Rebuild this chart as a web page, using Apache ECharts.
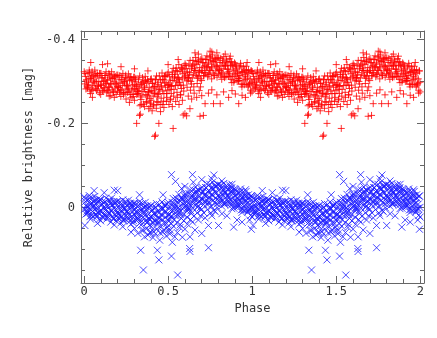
<!DOCTYPE html>
<html><head><meta charset="utf-8">
<script src="https://cdn.jsdelivr.net/npm/echarts@6/dist/echarts.min.js"></script>
<style>html,body{margin:0;padding:0;background:#fff}#c{width:437px;height:338px}</style>
</head><body><div id="c"></div>
<script>
// Phases of the observations (one cycle; the plot shows the cycle twice)
const bandPhase = [
0.001,0.004,0.008,0.011,0.015,0.018, 0.021,0.024,0.028,0.031,0.035,0.038, 0.041,0.044,0.048,0.051,0.055,0.058, 0.061,0.064,0.068,0.071,0.075,0.078, 0.081,0.084,0.088,0.091,0.095,0.098,
0.101,0.104,0.108,0.111,0.115,0.118, 0.121,0.124,0.128,0.131,0.135,0.138, 0.141,0.144,0.148,0.151,0.155,0.158, 0.161,0.164,0.168,0.171,0.175,0.178, 0.181,0.184,0.188,0.191,0.195,0.198,
0.201,0.204,0.208,0.211,0.215,0.218, 0.221,0.224,0.228,0.231,0.235,0.238, 0.241,0.244,0.248,0.251,0.255,0.258, 0.261,0.264,0.268,0.271,0.275,0.278, 0.281,0.284,0.288,0.291,0.295,0.298,
0.301,0.304,0.308,0.311,0.315,0.318, 0.321,0.324,0.328,0.331,0.335,0.338, 0.341,0.344,0.348,0.351,0.355,0.358, 0.361,0.364,0.368,0.371,0.375,0.378, 0.381,0.384,0.388,0.391,0.395,0.398,
0.401,0.404,0.408,0.411,0.415,0.418, 0.421,0.424,0.428,0.431,0.435,0.438, 0.441,0.444,0.448,0.451,0.455,0.458, 0.461,0.464,0.468,0.471,0.475,0.478, 0.481,0.484,0.488,0.491,0.495,0.498,
0.501,0.504,0.508,0.511,0.515,0.518, 0.521,0.524,0.528,0.531,0.535,0.538, 0.541,0.544,0.548,0.551,0.555,0.558, 0.561,0.564,0.568,0.571,0.575,0.578, 0.581,0.584,0.588,0.591,0.595,0.598,
0.601,0.604,0.608,0.611,0.615,0.618, 0.621,0.624,0.628,0.631,0.635,0.638, 0.641,0.644,0.648,0.651,0.655,0.658, 0.661,0.664,0.668,0.671,0.675,0.678, 0.681,0.684,0.688,0.691,0.695,0.698,
0.701,0.704,0.708,0.711,0.715,0.718, 0.721,0.724,0.728,0.731,0.735,0.738, 0.741,0.744,0.748,0.751,0.755,0.758, 0.761,0.764,0.768,0.771,0.775,0.778, 0.781,0.784,0.788,0.791,0.795,0.798,
0.801,0.804,0.808,0.811,0.815,0.818, 0.821,0.824,0.828,0.831,0.835,0.838, 0.841,0.844,0.848,0.851,0.855,0.858, 0.861,0.864,0.868,0.871,0.875,0.878, 0.881,0.884,0.888,0.891,0.895,0.898,
0.901,0.904,0.908,0.911,0.915,0.918, 0.921,0.924,0.928,0.931,0.935,0.938, 0.941,0.944,0.948,0.951,0.955,0.958, 0.961,0.964,0.968,0.971,0.975,0.978, 0.981,0.984,0.988,0.991,0.995,0.998
];
// Star 1 (red +) relative magnitudes at those phases
const redBandMag = [
-0.323,-0.294,-0.312,-0.282,-0.304,-0.289, -0.286,-0.318,-0.298,-0.327,-0.277,-0.307, -0.308,-0.281,-0.323,-0.290,-0.314,-0.299, -0.296,-0.327,-0.284,-0.311,-0.278,-0.319, -0.314,-0.288,-0.300,-0.273,-0.319,-0.292,
-0.319,-0.290,-0.308,-0.278,-0.300,-0.285, -0.282,-0.314,-0.294,-0.323,-0.273,-0.303, -0.304,-0.277,-0.319,-0.286,-0.310,-0.295, -0.292,-0.323,-0.280,-0.307,-0.274,-0.315, -0.310,-0.284,-0.296,-0.269,-0.315,-0.288,
-0.315,-0.286,-0.304,-0.274,-0.296,-0.281, -0.278,-0.310,-0.290,-0.319,-0.269,-0.299, -0.300,-0.273,-0.315,-0.282,-0.306,-0.291, -0.287,-0.318,-0.275,-0.302,-0.269,-0.310, -0.305,-0.279,-0.291,-0.264,-0.310,-0.283,
-0.310,-0.281,-0.299,-0.269,-0.291,-0.276, -0.272,-0.304,-0.284,-0.313,-0.263,-0.293, -0.294,-0.267,-0.309,-0.276,-0.300,-0.285, -0.281,-0.312,-0.269,-0.296,-0.263,-0.304, -0.300,-0.274,-0.286,-0.259,-0.305,-0.278,
-0.306,-0.277,-0.295,-0.265,-0.287,-0.272, -0.272,-0.304,-0.284,-0.313,-0.263,-0.293, -0.298,-0.271,-0.313,-0.280,-0.304,-0.289, -0.289,-0.320,-0.277,-0.304,-0.271,-0.312, -0.312,-0.286,-0.298,-0.271,-0.317,-0.290,
-0.322,-0.293,-0.311,-0.281,-0.303,-0.288, -0.290,-0.322,-0.302,-0.331,-0.281,-0.311, -0.317,-0.290,-0.332,-0.299,-0.323,-0.308, -0.309,-0.340,-0.297,-0.324,-0.291,-0.332, -0.332,-0.306,-0.318,-0.291,-0.337,-0.310,
-0.342,-0.313,-0.331,-0.301,-0.323,-0.308, -0.309,-0.341,-0.321,-0.350,-0.300,-0.330, -0.335,-0.308,-0.350,-0.317,-0.341,-0.326, -0.326,-0.357,-0.314,-0.341,-0.308,-0.349, -0.347,-0.321,-0.333,-0.306,-0.352,-0.325,
-0.355,-0.326,-0.344,-0.314,-0.336,-0.321, -0.320,-0.352,-0.332,-0.361,-0.311,-0.341, -0.344,-0.317,-0.359,-0.326,-0.350,-0.335, -0.332,-0.363,-0.320,-0.347,-0.314,-0.355, -0.351,-0.325,-0.337,-0.310,-0.356,-0.329,
-0.356,-0.327,-0.345,-0.315,-0.337,-0.322, -0.318,-0.350,-0.330,-0.359,-0.309,-0.339, -0.338,-0.311,-0.353,-0.320,-0.344,-0.329, -0.323,-0.354,-0.311,-0.338,-0.305,-0.346, -0.339,-0.313,-0.325,-0.298,-0.344,-0.317,
-0.341,-0.312,-0.330,-0.300,-0.322,-0.307, -0.302,-0.334,-0.314,-0.343,-0.293,-0.323, -0.321,-0.294,-0.336,-0.303,-0.327,-0.312, -0.305,-0.336,-0.293,-0.320,-0.287,-0.328, -0.320,-0.294,-0.306,-0.279,-0.325,-0.298
];
// Star 2 (blue x) relative magnitudes at those phases
const blueBandMag = [
-0.025,0.004,-0.014,0.016,-0.006,0.009, 0.013,-0.019,0.001,-0.028,0.022,-0.008, -0.008,0.019,-0.023,0.010,-0.014,0.001, 0.005,-0.026,0.017,-0.010,0.023,-0.018, -0.013,0.013,0.001,0.028,-0.018,0.009,
-0.018,0.011,-0.007,0.023,0.001,0.016, 0.019,-0.013,0.007,-0.022,0.028,-0.002, -0.003,0.024,-0.018,0.015,-0.009,0.006, 0.009,-0.022,0.021,-0.006,0.027,-0.014, -0.009,0.017,0.005,0.032,-0.014,0.013,
-0.014,0.015,-0.003,0.027,0.005,0.020, 0.023,-0.009,0.011,-0.018,0.032,0.002, 0.001,0.028,-0.014,0.019,-0.005,0.010, 0.014,-0.017,0.026,-0.001,0.032,-0.009, -0.005,0.021,0.009,0.036,-0.010,0.017,
-0.010,0.019,0.001,0.031,0.009,0.024, 0.027,-0.005,0.015,-0.014,0.036,0.006, 0.006,0.033,-0.009,0.024,0.000,0.015, 0.019,-0.012,0.031,0.004,0.037,-0.004, 0.001,0.027,0.015,0.042,-0.004,0.023,
-0.004,0.025,0.007,0.037,0.015,0.030, 0.032,0.000,0.020,-0.009,0.041,0.011, 0.008,0.035,-0.007,0.026,0.002,0.017, 0.018,-0.013,0.030,0.003,0.036,-0.005, -0.003,0.023,0.011,0.038,-0.008,0.019,
-0.012,0.017,-0.001,0.029,0.007,0.022, 0.020,-0.012,0.008,-0.021,0.029,-0.001, -0.007,0.020,-0.022,0.011,-0.013,0.002, 0.000,-0.031,0.012,-0.015,0.018,-0.023, -0.023,0.003,-0.009,0.018,-0.028,-0.001,
-0.033,-0.004,-0.022,0.008,-0.014,0.001, -0.001,-0.033,-0.013,-0.042,0.008,-0.022, -0.027,0.000,-0.042,-0.009,-0.033,-0.018, -0.018,-0.049,-0.006,-0.033,0.000,-0.041, -0.040,-0.014,-0.026,0.001,-0.045,-0.018,
-0.048,-0.019,-0.037,-0.007,-0.029,-0.014, -0.015,-0.047,-0.027,-0.056,-0.006,-0.036, -0.040,-0.013,-0.055,-0.022,-0.046,-0.031, -0.029,-0.060,-0.017,-0.044,-0.011,-0.052, -0.049,-0.023,-0.035,-0.008,-0.054,-0.027,
-0.054,-0.025,-0.043,-0.013,-0.035,-0.020, -0.016,-0.048,-0.028,-0.057,-0.007,-0.037, -0.037,-0.010,-0.052,-0.019,-0.043,-0.028, -0.023,-0.054,-0.011,-0.038,-0.005,-0.046, -0.039,-0.013,-0.025,0.002,-0.044,-0.017,
-0.042,-0.013,-0.031,-0.001,-0.023,-0.008, -0.003,-0.035,-0.015,-0.044,0.006,-0.024, -0.022,0.005,-0.037,-0.004,-0.028,-0.013, -0.007,-0.038,0.005,-0.022,0.011,-0.030, -0.022,0.004,-0.008,0.019,-0.027,0.000
];
// A second block of observations (phases and magnitudes for both stars)
const bandPhase2 = [
0.006,0.013,0.019, 0.026,0.033,0.039, 0.046,0.053,0.059, 0.066,0.073,0.079, 0.086,0.093,0.099,
0.106,0.113,0.119, 0.126,0.133,0.139, 0.146,0.153,0.159, 0.166,0.173,0.179, 0.186,0.193,0.199,
0.206,0.213,0.219, 0.226,0.233,0.239, 0.246,0.253,0.259, 0.266,0.273,0.279, 0.286,0.293,0.299,
0.306,0.313,0.319, 0.326,0.333,0.339, 0.346,0.353,0.359, 0.366,0.373,0.379, 0.386,0.393,0.399,
0.406,0.413,0.419, 0.426,0.433,0.439, 0.446,0.453,0.459, 0.466,0.473,0.479, 0.486,0.493,0.499,
0.506,0.513,0.519, 0.526,0.533,0.539, 0.546,0.553,0.559, 0.566,0.573,0.579, 0.586,0.593,0.599,
0.606,0.613,0.619, 0.626,0.633,0.639, 0.646,0.653,0.659, 0.666,0.673,0.679, 0.686,0.693,0.699,
0.706,0.713,0.719, 0.726,0.733,0.739, 0.746,0.753,0.759, 0.766,0.773,0.779, 0.786,0.793,0.799,
0.806,0.813,0.819, 0.826,0.833,0.839, 0.846,0.853,0.859, 0.866,0.873,0.879, 0.886,0.893,0.899,
0.906,0.913,0.919, 0.926,0.933,0.939, 0.946,0.953,0.959, 0.966,0.973,0.979, 0.986,0.993,0.999
];
const redBandMag2 = [
-0.319,-0.301,-0.284, -0.292,-0.321,-0.271, -0.311,-0.279,-0.303, -0.317,-0.299,-0.282, -0.290,-0.319,-0.269,
-0.309,-0.277,-0.301, -0.314,-0.296,-0.279, -0.287,-0.316,-0.266, -0.307,-0.275,-0.299, -0.312,-0.294,-0.277,
-0.285,-0.314,-0.264, -0.304,-0.272,-0.296, -0.309,-0.291,-0.274, -0.282,-0.311,-0.261, -0.301,-0.269,-0.293,
-0.306,-0.288,-0.271, -0.278,-0.242,-0.257, -0.297,-0.246,-0.289, -0.302,-0.250,-0.267, -0.276,-0.240,-0.255,
-0.296,-0.245,-0.288, -0.304,-0.252,-0.269, -0.281,-0.245,-0.260, -0.304,-0.253,-0.296, -0.314,-0.262,-0.279,
-0.292,-0.256,-0.271, -0.316,-0.265,-0.308, -0.326,-0.274,-0.291, -0.304,-0.268,-0.283, -0.328,-0.277,-0.320,
-0.338,-0.286,-0.303, -0.315,-0.279,-0.294, -0.338,-0.287,-0.330, -0.347,-0.295,-0.312, -0.323,-0.287,-0.302,
-0.345,-0.313,-0.337, -0.352,-0.334,-0.317, -0.327,-0.356,-0.306, -0.347,-0.315,-0.339, -0.353,-0.335,-0.318,
-0.326,-0.355,-0.305, -0.344,-0.312,-0.336, -0.347,-0.329,-0.312, -0.318,-0.347,-0.297, -0.335,-0.303,-0.327,
-0.337,-0.319,-0.302, -0.308,-0.337,-0.287, -0.324,-0.292,-0.316, -0.326,-0.308,-0.291, -0.296,-0.325,-0.275
];
const blueBandMag2 = [
-0.021,-0.003,0.014, 0.007,-0.022,0.028, -0.011,0.021,-0.003, -0.016,0.002,0.019, 0.011,-0.018,0.032,
-0.008,0.024,0.000, -0.013,0.005,0.022, 0.014,-0.015,0.035, -0.006,0.026,0.002, -0.011,0.007,0.024,
0.016,-0.013,0.037, -0.003,0.029,0.005, -0.008,0.010,0.027, 0.019,-0.010,0.040, -0.001,0.031,0.007,
-0.006,0.012,0.029, 0.021,-0.008,0.042, 0.003,0.054,0.011, -0.002,0.050,0.033, 0.025,0.061,0.046,
0.006,0.057,0.014, 0.000,0.052,0.035, 0.025,0.061,0.046, 0.003,0.054,0.011, -0.005,0.047,0.030,
0.018,0.054,0.039, -0.006,0.045,0.002, -0.016,0.036,0.019, 0.005,0.041,0.026, -0.019,0.032,-0.011,
-0.029,0.023,0.006, -0.007,0.029,0.014, -0.030,0.021,-0.022, -0.039,0.013,-0.004, -0.016,0.020,0.005,
-0.038,0.013,-0.030, -0.047,0.005,-0.012, -0.023,0.013,-0.002, -0.044,0.007,-0.036, -0.051,0.001,-0.016,
-0.024,-0.053,-0.003, -0.042,-0.010,-0.034, -0.046,-0.028,-0.011, -0.018,-0.047,0.003, -0.035,-0.003,-0.027,
-0.038,-0.020,-0.003, -0.009,-0.038,0.012, -0.025,0.007,-0.017, -0.028,-0.010,0.007, 0.002,-0.027,0.023
];
// Scattered points outside the main band: [phase, mag]
const redScatter = [
[0.313,-0.200],[0.330,-0.219],[0.335,-0.222],[0.420,-0.169],[0.425,-0.172],[0.445,-0.200],[0.530,-0.188],[0.590,-0.220],[0.600,-0.223],[0.690,-0.217],[0.630,-0.235],[0.710,-0.219],[0.720,-0.247],[0.770,-0.247],[0.810,-0.247],[0.920,-0.247],[0.940,-0.267],[0.610,-0.218],
[0.340,-0.245],[0.360,-0.240],[0.370,-0.252],[0.385,-0.235],[0.395,-0.248],[0.405,-0.230],[0.415,-0.242],[0.430,-0.236],[0.440,-0.250],[0.455,-0.228],[0.465,-0.245],[0.475,-0.238],[0.490,-0.252],[0.505,-0.245],[0.515,-0.258],[0.525,-0.240],[0.545,-0.252],[0.555,-0.262],[0.565,-0.245],[0.575,-0.268],[0.585,-0.255],[0.620,-0.265],[0.640,-0.258],[0.655,-0.272],[0.670,-0.262],[0.685,-0.278],[0.700,-0.266],[0.740,-0.272],[0.760,-0.280],[0.790,-0.268],[0.830,-0.275],[0.860,-0.262],[0.880,-0.278],[0.900,-0.270],[0.960,-0.262],[0.050,-0.262],[0.150,-0.265],[0.250,-0.258],[0.270,-0.250],[0.300,-0.255],[0.180,-0.262],[0.990,-0.272],
[0.750,-0.372],[0.760,-0.370],[0.790,-0.368],[0.680,-0.365],[0.660,-0.368],[0.040,-0.345],[0.140,-0.342],[0.110,-0.340],[0.840,-0.365],[0.870,-0.360],[0.220,-0.335],[0.970,-0.345],[0.500,-0.340],[0.560,-0.352],[0.380,-0.325],[0.300,-0.330]
];
const blueScatter = [
[0.337,0.102],[0.436,0.102],[0.445,0.125],[0.353,0.149],[0.520,0.116],[0.557,0.161],[0.628,0.098],[0.630,0.105],[0.740,0.096],[0.520,-0.078],[0.544,-0.062],[0.645,-0.078],[0.772,-0.077],
[0.005,0.043],[0.995,0.052],[0.985,0.030],[0.080,0.038],[0.180,0.042],[0.230,0.046],[0.280,0.059],[0.300,0.050],[0.320,0.062],[0.345,0.055],[0.360,0.070],[0.380,0.066],[0.395,0.058],[0.410,0.072],[0.425,0.063],[0.450,0.078],[0.470,0.059],[0.490,0.068],[0.500,0.054],[0.510,0.063],[0.525,0.083],[0.540,0.070],[0.555,0.060],[0.570,0.048],[0.585,0.071],[0.600,0.052],[0.615,0.040],[0.630,0.070],[0.645,0.035],[0.660,0.054],[0.680,0.030],[0.700,0.062],[0.720,0.025],[0.740,0.043],[0.760,0.020],[0.780,0.010],[0.800,0.043],[0.820,0.015],[0.850,0.020],[0.890,0.047],[0.910,0.030],[0.940,0.035],
[0.200,-0.040],[0.120,-0.035],[0.060,-0.040],[0.180,-0.041],[0.330,-0.030],[0.470,-0.030],[0.580,-0.045],[0.600,-0.050],[0.650,-0.060],[0.700,-0.066],[0.760,-0.068],[0.820,-0.063],[0.880,-0.055],[0.960,-0.042]
];
// Tick positions / labels
const xMajor = [0, 0.5, 1, 1.5, 2];
const xMinor = [0,0.1,0.2,0.3,0.4,0.5,0.6,0.7,0.8,0.9,1,1.1,1.2,1.3,1.4,1.5,1.6,1.7,1.8,1.9,2];
const yMajor = [-0.4, -0.2, 0];
const yMinor = [-0.4,-0.35,-0.3,-0.25,-0.2,-0.15,-0.1,-0.05,0,0.05,0.1,0.15];
const xTitle = 'Phase';
const yTitle = 'Relative brightness [mag]';

function folded(blocks, extra) {
  let pts = [];
  blocks.forEach(b => { pts = pts.concat(b[0].map((p, i) => [p, b[1][i]])); });
  pts = pts.concat(extra);
  return pts.concat(pts.map(p => [p[0] + 1, p[1]]));
}

const FONT = 'DejaVu Sans Mono';
const AX = '#666';
const TXT = '#333';

function xAxisDef(pos, ticks, len, showLine, labels, name) {
  return {
    type: 'value', position: pos, min: -0.018, max: 2.022,
    axisLine: { show: showLine, onZero: false, lineStyle: { color: AX, width: 1 } },
    axisTick: { show: true, inside: true, length: len, customValues: ticks, lineStyle: { color: AX, width: 1 } },
    axisLabel: labels ? { show: true, customValues: labels, fontFamily: FONT, fontSize: 12, color: TXT, margin: 3 } : { show: false },
    splitLine: { show: false },
    name: name || '', nameLocation: 'middle', nameGap: 18,
    nameTextStyle: { fontFamily: FONT, fontSize: 12, color: TXT }
  };
}
function yAxisDef(pos, ticks, len, showLine, labels, name) {
  return {
    type: 'value', position: pos, min: -0.42, max: 0.18, inverse: true,
    axisLine: { show: showLine, onZero: false, lineStyle: { color: AX, width: 1 } },
    axisTick: { show: true, inside: true, length: len, customValues: ticks, lineStyle: { color: AX, width: 1 } },
    axisLabel: labels ? { show: true, customValues: labels, fontFamily: FONT, fontSize: 12, color: TXT, margin: 6 } : { show: false },
    splitLine: { show: false },
    name: name || '', nameLocation: 'middle', nameGap: 42,
    nameTextStyle: { fontFamily: FONT, fontSize: 12, color: TXT }
  };
}

const chart = echarts.init(document.getElementById('c'), null, { renderer: 'canvas' });
chart.setOption({
  animation: false,
  backgroundColor: '#fff',
  grid: { left: 81, top: 31, width: 343, height: 252, containLabel: false },
  xAxis: [
    xAxisDef('bottom', xMajor, 7, true, xMajor, xTitle),
    xAxisDef('bottom', xMinor, 4, false, null),
    xAxisDef('top', xMajor, 7, true, null),
    xAxisDef('top', xMinor, 4, false, null)
  ],
  yAxis: [
    yAxisDef('left', yMajor, 7, true, yMajor, yTitle),
    yAxisDef('left', yMinor, 4, false, null),
    yAxisDef('right', yMajor, 7, true, null),
    yAxisDef('right', yMinor, 4, false, null)
  ],
  series: [
    {
      type: 'scatter', xAxisIndex: 0, yAxisIndex: 0,
      data: folded([[bandPhase, redBandMag], [bandPhase2, redBandMag2]], redScatter),
      symbol: 'path://M0,3.5L7,3.5M3.5,0L3.5,7', symbolSize: 7,
      itemStyle: { color: 'transparent', borderColor: '#ff0000', borderWidth: 1 },
      emphasis: { disabled: true }, silent: true
    },
    {
      type: 'scatter', xAxisIndex: 0, yAxisIndex: 0,
      data: folded([[bandPhase, blueBandMag], [bandPhase2, blueBandMag2]], blueScatter),
      symbol: 'path://M0,0L7,7M7,0L0,7', symbolSize: 7,
      itemStyle: { color: 'transparent', borderColor: '#1a1aff', borderWidth: 1 },
      emphasis: { disabled: true }, silent: true
    }
  ]
});
</script>
</body></html>
